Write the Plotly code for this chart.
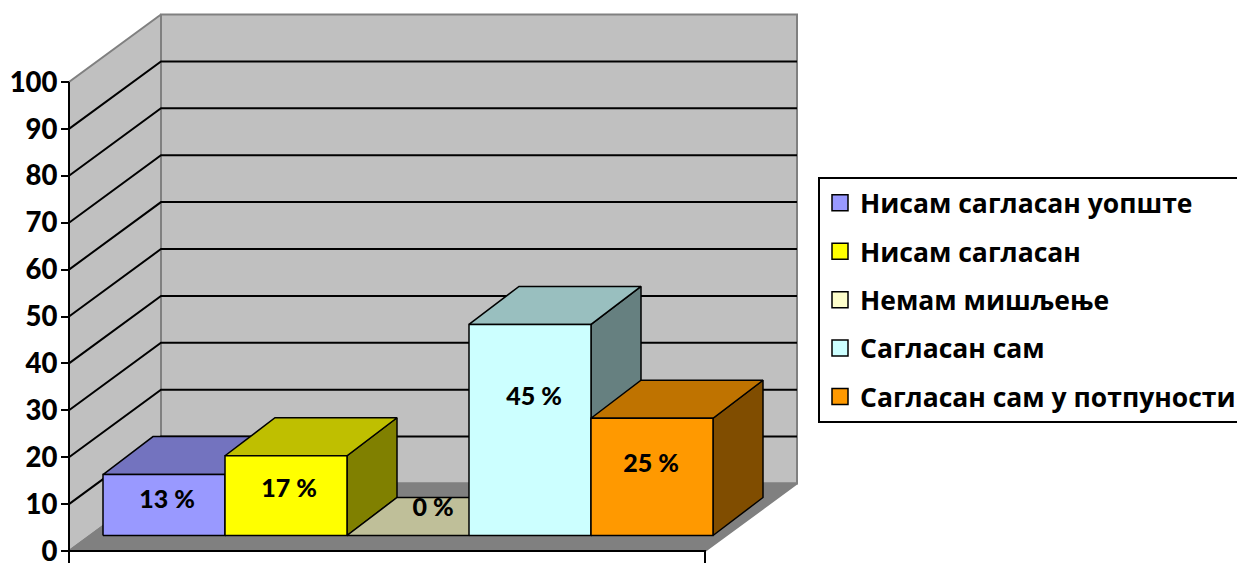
import plotly.graph_objects as go

# --- data ---
categories = ["Нисам сагласан уопште", "Нисам сагласан", "Немам мишљење",
              "Сагласан сам", "Сагласан сам у потпуности"]
values = [13, 17, 0, 45, 25]
y_ticks = [0, 10, 20, 30, 40, 50, 60, 70, 80, 90, 100]
front_colors = ["#9999FF", "#FFFF00", "#FFFFCC", "#CCFFFF", "#FF9900"]
top_colors = ["#7373BF", "#BFBF00", "#BFBF99", "#99BFBF", "#BF7300"]
side_colors = ["#4D4D80", "#808000", "#80805F", "#668080", "#804D00"]

# --- layout geometry (pixels) ---
W, H = 1237, 563
AX_X, ZERO_PX, PX_PER_UNIT = 69, 551, 4.69
FRONT_RIGHT = 705
DEPTH_X, DEPTH_PX = 92, 67.5
BAR_X0, BAR_W, BAR_BASE_PX, BAR_DX, BAR_DPX = 103, 122, 535.5, 50, 38
LABEL_DX = [3, 3, 25, 4, -1]
LABEL_DROP = [27, 35, -26, 74, 47]
FONT = "Lato"
LEGEND_FONT = "Open Sans"
WALL, FLOOR, EDGE = "#C0C0C0", "#808080", "#808080"

u = lambda px: px / PX_PER_UNIT          # pixels -> value units
depth = u(DEPTH_PX)
vmax = max(y_ticks)
fig = go.Figure()


def poly(xs, ys, fill, line="black", lw=1.5):
    fig.add_trace(go.Scatter(x=xs + xs[:1], y=ys + ys[:1], mode="lines", fill="toself",
                             fillcolor=fill, line=dict(color=line, width=lw),
                             hoverinfo="skip", showlegend=False))


# walls and floor
poly([AX_X, AX_X + DEPTH_X, AX_X + DEPTH_X, AX_X], [0, depth, vmax + depth, vmax], WALL, EDGE, 2)
poly([AX_X + DEPTH_X, FRONT_RIGHT + DEPTH_X, FRONT_RIGHT + DEPTH_X, AX_X + DEPTH_X],
     [depth, depth, vmax + depth, vmax + depth], WALL, EDGE, 2)
poly([AX_X, AX_X + DEPTH_X, FRONT_RIGHT + DEPTH_X, FRONT_RIGHT], [0, depth, depth, 0], FLOOR, EDGE, 2)

# gridlines
gx, gy = [], []
for t in y_ticks[1:-1]:
    gx += [AX_X, AX_X + DEPTH_X, FRONT_RIGHT + DEPTH_X, None]
    gy += [t, t + depth, t + depth, None]
fig.add_trace(go.Scatter(x=gx, y=gy, mode="lines", line=dict(color="black", width=2),
                         hoverinfo="skip", showlegend=False))

# axis lines and end ticks
bottom = -u(H - ZERO_PX)
fig.add_trace(go.Scatter(x=[AX_X, AX_X, None, AX_X, FRONT_RIGHT, FRONT_RIGHT],
                         y=[vmax, bottom, None, 0, 0, bottom], mode="lines",
                         line=dict(color="black", width=2), hoverinfo="skip", showlegend=False))

# bars
base = u(ZERO_PX - BAR_BASE_PX)
bdx, bd = BAR_DX, u(BAR_DPX)
lx, ly, lt = [], [], []
for i, v in enumerate(values):
    x0 = BAR_X0 + i * BAR_W
    x1 = x0 + BAR_W
    top = base + v
    if v > 0:
        poly([x1, x1 + bdx, x1 + bdx, x1], [base, base + bd, top + bd, top], side_colors[i])
    poly([x0, x0 + bdx, x1 + bdx, x1], [top, top + bd, top + bd, top], top_colors[i])
    if v > 0:
        poly([x0, x1, x1, x0], [base, base, top, top], front_colors[i])
    lx.append((x0 + x1) / 2 + LABEL_DX[i])
    ly.append(top - u(LABEL_DROP[i]))
    lt.append(f"{v} %")

fig.add_trace(go.Scatter(x=lx, y=ly, text=lt, mode="text", textposition="middle center",
                         textfont=dict(family=FONT, size=25, color="black", weight=900),
                         hoverinfo="skip", showlegend=False))

# legend entries
for name, col in zip(categories, front_colors):
    fig.add_trace(go.Scatter(x=[None], y=[None], mode="markers", name=name, legendgroup=name,
                             marker=dict(symbol="square", size=17, color=col,
                                         line=dict(color="black", width=1.5))))

fig.update_layout(
    width=W, height=H, margin=dict(l=0, r=0, t=0, b=0, autoexpand=False),
    paper_bgcolor="white", plot_bgcolor="white",
    xaxis=dict(range=[0, W], visible=False, fixedrange=True),
    yaxis=dict(range=[-u(H - ZERO_PX), u(ZERO_PX)], anchor="free", position=AX_X / W,
               tickmode="array", tickvals=y_ticks, ticks="outside", ticklen=8, tickwidth=2,
               tickcolor="black", showgrid=False, zeroline=False, showline=False,
               ticklabeloverflow="allow", automargin=False, ticklabelstandoff=-2,
               tickfont=dict(family=FONT, size=27.5, color="black", weight=900),
               fixedrange=True),
    legend=dict(x=818 / W, xanchor="left", y=1 - 177 / H, yanchor="top",
                bgcolor="white", bordercolor="black", borderwidth=2,
                traceorder="grouped", tracegroupgap=11,
                font=dict(family=LEGEND_FONT, size=26.5, color="black", weight=700),
                itemsizing="trace"),
    showlegend=True,
)
fig.write_html("out.html", post_script="document.body.style.margin='0';",
               config={"displayModeBar": False})
